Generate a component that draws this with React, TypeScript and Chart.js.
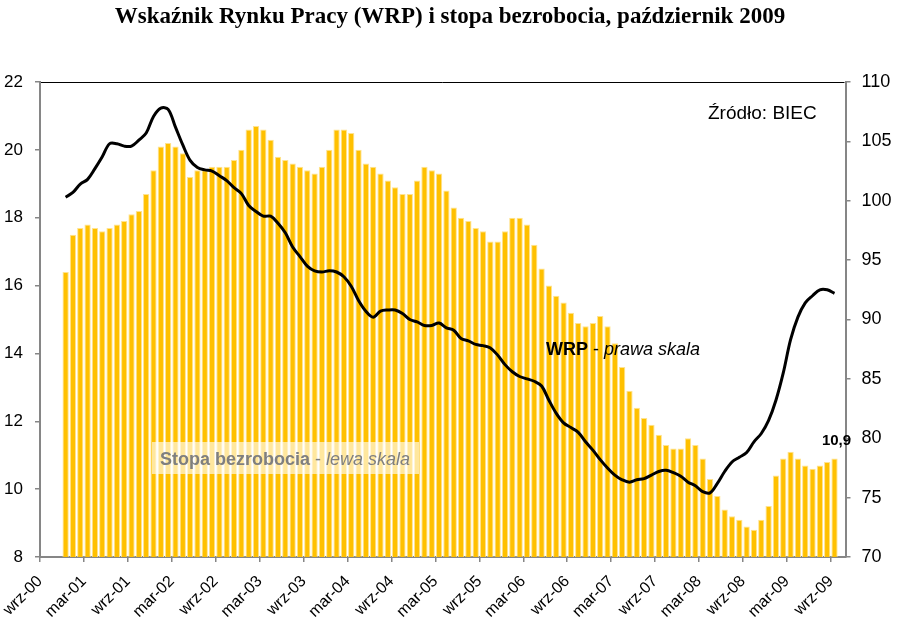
import { useEffect, useRef } from "react";
import { Chart, registerables } from "chart.js";

Chart.register(...registerables);

// x axis counts months from Sep 2000 (index 0) to Oct 2009
const MONTH_COUNT = 110;
// first observation: Dec 2000
const FIRST_MONTH = 3;

const tickLabels = [
  "wrz-00", "mar-01", "wrz-01", "mar-02", "wrz-02", "mar-03", "wrz-03",
  "mar-04", "wrz-04", "mar-05", "wrz-05", "mar-06", "wrz-06", "mar-07",
  "wrz-07", "mar-08", "wrz-08", "mar-09", "wrz-09",
];

// Stopa bezrobocia (%), Dec 2000 - Sep 2009
const unemployment = [
  16.4,
  17.5, 17.7, 17.8, 17.7, 17.6, 17.7, 17.8, 17.9, 18.1, 18.2, 18.7, 19.4,
  20.1, 20.2, 20.1, 19.9, 19.2, 19.4, 19.4, 19.5, 19.5, 19.5, 19.7, 20.0,
  20.6, 20.7, 20.6, 20.3, 19.8, 19.7, 19.6, 19.5, 19.4, 19.3, 19.5, 20.0,
  20.6, 20.6, 20.5, 20.0, 19.6, 19.5, 19.3, 19.1, 18.9, 18.7, 18.7, 19.1,
  19.5, 19.4, 19.3, 18.8, 18.3, 18.0, 17.9, 17.7, 17.6, 17.3, 17.3, 17.6,
  18.0, 18.0, 17.8, 17.2, 16.5, 16.0, 15.7, 15.5, 15.2, 14.9, 14.8, 14.9,
  15.1, 14.8, 14.3, 13.6, 12.9, 12.4, 12.1, 11.9, 11.6, 11.3, 11.2, 11.2,
  11.5, 11.3, 10.9, 10.3, 9.8, 9.4, 9.2, 9.1, 8.9, 8.8, 9.1, 9.5,
  10.4, 10.9, 11.1, 10.9, 10.7, 10.6, 10.7, 10.8, 10.9,
];

// Wskaznik Rynku Pracy, Dec 2000 - Sep 2009
const wrp = [
  100.3,
  100.7, 101.4, 101.8, 102.7, 103.7, 104.8, 104.8, 104.6, 104.6, 105.1, 105.7, 107.1,
  107.8, 107.7, 106.2, 104.7, 103.4, 102.8, 102.6, 102.5, 102.1, 101.7, 101.1, 100.6,
  99.6, 99.1, 98.7, 98.7, 98.1, 97.3, 96.1, 95.3, 94.5, 94.1, 94.0, 94.1,
  94.0, 93.6, 92.8, 91.6, 90.7, 90.2, 90.7, 90.8, 90.8, 90.5, 90.0, 89.8,
  89.5, 89.5, 89.7, 89.3, 89.1, 88.4, 88.2, 87.9, 87.8, 87.6, 87.0, 86.2,
  85.6, 85.2, 85.0, 84.8, 84.4, 83.2, 82.1, 81.3, 80.9, 80.5, 79.7, 79.0,
  78.2, 77.5, 76.9, 76.5, 76.3, 76.5, 76.6, 76.9, 77.2, 77.3, 77.1, 76.8,
  76.3, 76.0, 75.5, 75.4, 76.2, 77.2, 78.0, 78.4, 78.8, 79.7, 80.4, 81.5,
  83.2, 85.5, 88.3, 90.2, 91.4, 92.0, 92.5, 92.5, 92.2,
];

const TITLE = "Wskaźnik Rynku Pracy (WRP) i stopa bezrobocia, październik 2009";
const AXIS_GREY = "#868686";
const SANS = '"Liberation Sans", Arial, sans-serif';

type Run = [string, string, string];

function drawRuns(ctx: CanvasRenderingContext2D, x: number, y: number, runs: Run[]) {
  let cx = x;
  for (const [font, text, color] of runs) {
    ctx.font = font;
    ctx.fillStyle = color;
    ctx.fillText(text, cx, y);
    cx += ctx.measureText(text).width;
  }
}

const overlayPlugin = {
  id: "overlay",
  afterDraw(chart: Chart) {
    const { ctx, chartArea: a, scales } = chart;
    ctx.save();

    // top border of the plot area
    ctx.strokeStyle = "#000";
    ctx.lineWidth = 1;
    ctx.beginPath();
    ctx.moveTo(a.left + 1, a.top + 0.5);
    ctx.lineTo(a.right - 1, a.top + 0.5);
    ctx.stroke();

    // title
    ctx.fillStyle = "#000";
    ctx.font = 'bold 23px "Liberation Serif", "Times New Roman", serif';
    ctx.textAlign = "center";
    ctx.textBaseline = "middle";
    ctx.fillText(TITLE, 450, 17);

    // right-hand scale labels, placed from the y2 scale's own ticks
    const r = scales.y2;
    ctx.font = `18px ${SANS}`;
    ctx.textAlign = "left";
    for (const t of r.ticks) {
      ctx.fillText(String(t.value), r.left + 16, r.getPixelForValue(t.value));
    }

    ctx.textBaseline = "alphabetic";

    // source
    ctx.font = `19px ${SANS}`;
    ctx.fillText("Źródło: BIEC", 708, 119);

    // series labels
    drawRuns(ctx, 546, 355, [
      [`bold 18px ${SANS}`, "WRP", "#000"],
      [`18px ${SANS}`, " - ", "#000"],
      [`italic 18px ${SANS}`, "prawa skala", "#000"],
    ]);

    ctx.fillStyle = "rgba(255,255,255,0.62)";
    ctx.fillRect(152, 442, 267, 32);
    drawRuns(ctx, 160, 465, [
      [`bold 18px ${SANS}`, "Stopa bezrobocia", "#7f7f7f"],
      [`18px ${SANS}`, " - ", "#7f7f7f"],
      [`italic 18px ${SANS}`, "lewa skala", "#7f7f7f"],
    ]);

    // value label on the last bar
    const lastIdx = unemployment.length - 1;
    const last = unemployment[lastIdx];
    const lx = scales.x.getPixelForValue(FIRST_MONTH + lastIdx + 0.5);
    const ly = scales.y.getPixelForValue(last);
    ctx.font = `bold 15px ${SANS}`;
    ctx.fillStyle = "#000";
    ctx.textAlign = "center";
    ctx.fillText(last.toFixed(1).replace(".", ","), lx + 2, ly - 14);

    ctx.restore();
  },
};

export default function App() {
  const chartRef = useRef<HTMLCanvasElement>(null);
  const chartInstanceRef = useRef<Chart | null>(null);

  useEffect(() => {
    if (!chartRef.current) return;
    if (chartInstanceRef.current) chartInstanceRef.current.destroy();
    const ctx = chartRef.current.getContext("2d");
    if (!ctx) return;

    Chart.defaults.font.family = SANS;
    Chart.defaults.color = "#000";

    const barPoints = unemployment.map((v, i) => ({ x: FIRST_MONTH + i + 0.5, y: v }));
    const linePoints = wrp.map((v, i) => ({ x: FIRST_MONTH + i + 0.5, y: v }));
    const tickValues = tickLabels.map((_, i) => i * 6);

    const axisGrid = {
      display: true,
      drawOnChartArea: false,
      drawTicks: true,
      offset: false,
      tickLength: 5,
      color: AXIS_GREY,
      lineWidth: 1.5,
    };

    chartInstanceRef.current = new Chart(ctx, {
      type: "bar",
      data: {
        datasets: [
          {
            type: "line",
            label: "WRP",
            data: linePoints,
            yAxisID: "y2",
            borderColor: "#000",
            borderWidth: 3,
            pointRadius: 0,
            tension: 0.35,
            fill: false,
          },
          {
            type: "bar",
            label: "Stopa bezrobocia",
            data: barPoints,
            yAxisID: "y",
            backgroundColor: "#FFC000",
            borderColor: "#FFE38F",
            borderWidth: 1,
            borderSkipped: false,
            categoryPercentage: 0.86,
            barPercentage: 1,
          },
        ],
      },
      options: {
        responsive: true,
        maintainAspectRatio: false,
        animation: false,
        layout: { padding: { top: 82, left: 0, right: 0, bottom: 0 } },
        plugins: {
          legend: { display: false },
          tooltip: { enabled: false },
          title: { display: false },
        },
        scales: {
          x: {
            type: "linear",
            offset: false,
            min: 0,
            max: MONTH_COUNT,
            grid: axisGrid,
            border: { display: true, color: AXIS_GREY, width: 2 },
            afterBuildTicks: (scale: any) => {
              scale.ticks = tickValues.map((v) => ({ value: v }));
            },
            afterFit: (scale: any) => {
              scale.height = 73;
              scale.paddingLeft = 0;
              scale.paddingRight = 0;
            },
            ticks: {
              autoSkip: false,
              minRotation: 45,
              maxRotation: 45,
              padding: 10,
              font: { size: 16 },
              callback: (value: any) => tickLabels[Math.round(Number(value) / 6)] ?? "",
            },
          },
          y: {
            type: "linear",
            position: "left",
            min: 8,
            max: 22,
            grid: axisGrid,
            border: { display: true, color: AXIS_GREY, width: 2 },
            afterFit: (scale: any) => {
              scale.width = 40;
            },
            ticks: { stepSize: 2, padding: 12, font: { size: 17 } },
          },
          y2: {
            type: "linear",
            position: "right",
            min: 70,
            max: 110,
            grid: axisGrid,
            border: { display: true, color: AXIS_GREY, width: 2 },
            afterFit: (scale: any) => {
              scale.width = 56.5;
            },
            // labels are drawn by the overlay plugin
            ticks: { stepSize: 5, font: { size: 17 }, color: "rgba(0,0,0,0)" },
          },
        },
      },
      plugins: [overlayPlugin],
    });

    return () => {
      if (chartInstanceRef.current) {
        chartInstanceRef.current.destroy();
        chartInstanceRef.current = null;
      }
    };
  }, []);

  return (
    <div style={{ position: "absolute", left: 0, top: 0, width: 902, height: 630, background: "#fff" }}>
      <canvas ref={chartRef}></canvas>
    </div>
  );
}
